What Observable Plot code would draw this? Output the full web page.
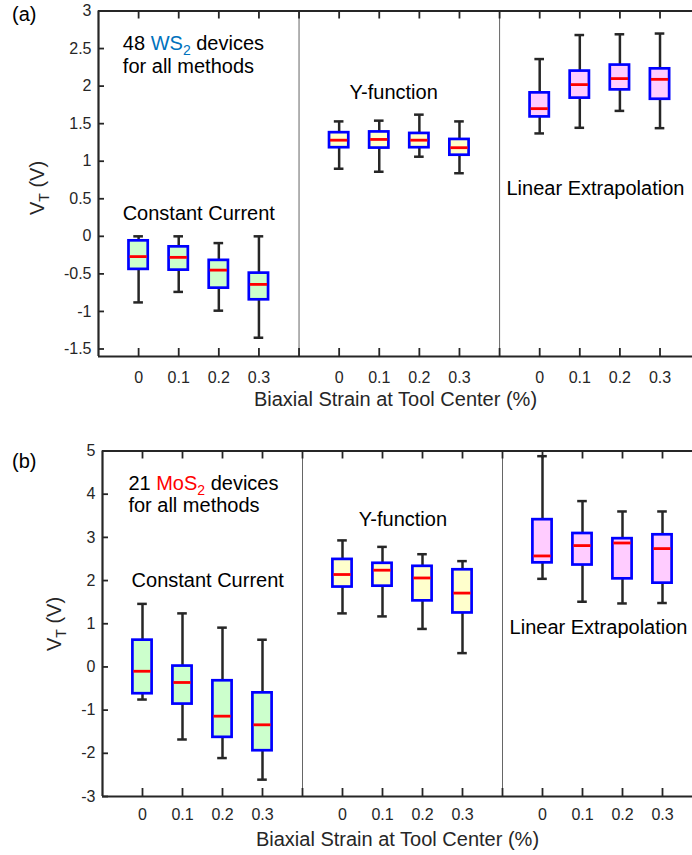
<!DOCTYPE html>
<html><head><meta charset="utf-8">
<script src="https://cdn.jsdelivr.net/npm/d3@7"></script>
<script src="https://cdn.jsdelivr.net/npm/@observablehq/plot@0.6"></script>
<style>
body{margin:0;background:#fff;}
#wrap{position:relative;width:692px;height:855px;overflow:hidden;font-family:"Liberation Sans",Arial,sans-serif;}
#wrap svg{position:absolute;left:0;}
</style></head><body><div id="wrap"></div>
<script>
// ---- categories ----
const strains = ["0", "0.1", "0.2", "0.3"];
const methods = ["Constant Current", "Y-function", "Linear Extrapolation"];
const methodFills = ["#ccffcc", "#ffffcc", "#ffccff"];
const xLabel = "Biaxial Strain at Tool Center (%)";

// ---- panel (a): 48 WS2 devices (order: CC 0..0.3, YF 0..0.3, LE 0..0.3) ----
const wsHigh = [0.00, 0.00, -0.09, 0.00, 1.53, 1.54, 1.62, 1.53, 2.36, 2.68, 2.69, 2.70];
const wsQ3   = [-0.06, -0.14, -0.32, -0.49, 1.38, 1.39, 1.37, 1.29, 1.91, 2.20, 2.28, 2.23];
const wsMed  = [-0.27, -0.28, -0.45, -0.64, 1.28, 1.29, 1.28, 1.18, 1.70, 2.02, 2.10, 2.09];
const wsQ1   = [-0.44, -0.45, -0.69, -0.845, 1.18, 1.175, 1.18, 1.08, 1.59, 1.84, 1.95, 1.825];
const wsLow  = [-0.88, -0.74, -0.99, -1.35, 0.90, 0.86, 1.06, 0.84, 1.37, 1.445, 1.67, 1.44];
const wsYTicks = [-1.5, -1, -0.5, 0, 0.5, 1, 1.5, 2, 2.5, 3];

// ---- panel (b): 21 MoS2 devices ----
const mosHigh = [1.46, 1.24, 0.91, 0.63, 2.93, 2.78, 2.61, 2.45, 4.88, 3.84, 3.60, 3.60];
const mosQ3   = [0.62, 0.02, -0.32, -0.60, 2.49, 2.40, 2.33, 2.25, 3.41, 3.09, 2.97, 3.06];
const mosMed  = [-0.10, -0.36, -1.14, -1.34, 2.14, 2.24, 2.06, 1.71, 2.57, 2.81, 2.87, 2.74];
const mosQ1   = [-0.62, -0.86, -1.63, -1.94, 1.85, 1.87, 1.53, 1.25, 2.41, 2.36, 2.04, 1.94];
const mosLow  = [-0.755, -1.68, -2.11, -2.61, 1.24, 1.17, 0.88, 0.32, 2.04, 1.51, 1.47, 1.48];
const mosYTicks = [-3, -2, -1, 0, 1, 2, 3, 4, 5];

const FONT = '"Liberation Sans", Arial, sans-serif';
const DARK = "#262626";

function panel(cfg) {
  const rows = [];
  methods.forEach((m, g) => strains.forEach((s, i) => {
    const k = g * 4 + i;
    rows.push({pos: g * 5 + i + 1, strain: s, method: m, fill: methodFills[g],
      low: cfg.low[k], q1: cfg.q1[k], med: cfg.med[k], q3: cfg.q3[k], high: cfg.high[k]});
  }));
  const W = 692, H = 415, mt = 10.5, mb = 59;
  const ph = H - mt - mb, pw = W - cfg.marginLeft;
  const allTicks = d3.range(1, 15);
  const sepPos = [5, 10];
  const BW = 0.24, CAP = 0.12, MW = 0.215;
  const labelOf = new Map(rows.map(d => [d.pos, d.strain]));
  const notes = methods.map((m, g) => ({text: m, x: cfg.notePos[g][0], y: cfg.notePos[g][1]}));

  const plot = Plot.plot({
    width: W, height: H, marginTop: mt, marginBottom: mb, marginLeft: cfg.marginLeft, marginRight: 0,
    style: {fontFamily: FONT, fontSize: "16px", color: DARK, background: "transparent", overflow: "visible"},
    x: {domain: [0, cfg.xMax]},
    y: {domain: cfg.yDomain},
    color: {type: "identity"},
    marks: [
      Plot.axisY(cfg.yTicks, {tickSize: 0, tickPadding: 7, tickFormat: d => String(d), label: null, fontSize: 16, fill: DARK}),
      Plot.axisX(rows.map(d => d.pos), {tickSize: 0, tickPadding: cfg.xPad, tickFormat: d => labelOf.get(d), label: null, fontSize: 16, fill: DARK}),
      Plot.ruleX(sepPos, {stroke: "#555", strokeWidth: 0.9}),
      Plot.ruleX(allTicks, {stroke: DARK, strokeWidth: 1.8, insetBottom: ph - 8}),
      Plot.ruleX(allTicks, {stroke: DARK, strokeWidth: 1.8, insetTop: ph - 8}),
      Plot.ruleY(cfg.yTicks, {stroke: DARK, strokeWidth: 1.8, insetRight: pw - 6}),
      Plot.ruleX([0], {stroke: DARK, strokeWidth: 2.2}),
      Plot.ruleY(cfg.yDomain, {stroke: DARK, strokeWidth: 2.2}),
      // whiskers
      Plot.ruleX(rows, {x: "pos", y1: "low", y2: "high", stroke: DARK, strokeWidth: 2.5}),
      Plot.ruleY(rows, {y: "low", x1: d => d.pos - CAP, x2: d => d.pos + CAP, stroke: DARK, strokeWidth: 2.5}),
      Plot.ruleY(rows, {y: "high", x1: d => d.pos - CAP, x2: d => d.pos + CAP, stroke: DARK, strokeWidth: 2.5}),
      // boxes
      Plot.rect(rows, {x1: d => d.pos - BW, x2: d => d.pos + BW, y1: "q1", y2: "q3", fill: "fill", stroke: "#0000ff", strokeWidth: 2.7}),
      // medians
      Plot.ruleY(rows, {y: "med", x1: d => d.pos - MW, x2: d => d.pos + MW, stroke: "#ff0000", strokeWidth: 2.8}),
      // method labels
      Plot.text(notes, {x: "x", y: "y", text: "text", fontSize: 20, fill: "#000", textAnchor: "middle", lineAnchor: "middle"}),
      // x label
      Plot.text([xLabel], {frameAnchor: "bottom", dy: 43, text: d => d, fontSize: 20, fill: DARK, lineAnchor: "middle"})
    ]
  });
  plot.style.top = cfg.top + "px";
  const svg = d3.select(plot);
  const sx = plot.scale("x").apply, sy = plot.scale("y").apply;

  // panel tag
  svg.append("text").attr("x", 12).attr("y", cfg.tagY).attr("font-size", 20).attr("font-family", FONT)
    .attr("text-anchor", "start").attr("fill", "#000").text(cfg.tag);

  // y label  V_T (V)
  const yl = svg.append("text").attr("transform", `translate(${cfg.yLabelX},${cfg.yLabelY}) rotate(-90)`)
    .attr("text-anchor", "middle").attr("font-size", 20).attr("font-family", FONT).attr("fill", DARK);
  yl.append("tspan").text("V");
  yl.append("tspan").attr("font-size", 14).attr("dy", 5).text("T");
  yl.append("tspan").attr("dy", -5).text(" (V)");

  // device note (two lines in one text block)
  const x0 = sx(cfg.infoPos[0]), y0 = sy(cfg.infoPos[1]);
  const t1 = svg.append("text").attr("x", x0).attr("y", y0).attr("font-size", 20).attr("font-family", FONT)
    .attr("text-anchor", "start").attr("fill", "#000");
  t1.append("tspan").text(cfg.count + " ");
  t1.append("tspan").attr("fill", cfg.matColor).text(cfg.material);
  t1.append("tspan").attr("fill", cfg.matColor).attr("font-size", 14).attr("dy", 5).text("2");
  t1.append("tspan").attr("dy", -5).text(" devices");
  t1.append("tspan").attr("x", x0).attr("dy", 22.5).text("for all methods");
  return plot;
}

const wrap = document.getElementById("wrap");
wrap.appendChild(panel({
  top: 0, marginLeft: 98, xMax: 14.81, yDomain: [-1.6, 3], yTicks: wsYTicks, xPad: 15,
  low: wsLow, q1: wsQ1, med: wsMed, q3: wsQ3, high: wsHigh,
  notePos: [[2.5, 0.30], [7.36, 1.91], [12.39, 0.64]],
  tag: "(a)", tagY: 21, yLabelX: 43.5, yLabelY: 188,
  infoPos: [0.62, 2.47], count: "48", material: "WS", matColor: "#0072BD"
}));
wrap.appendChild(panel({
  top: 440, marginLeft: 102, xMax: 14.75, yDomain: [-3, 5], yTicks: mosYTicks, xPad: 12.5,
  low: mosLow, q1: mosQ1, med: mosMed, q3: mosQ3, high: mosHigh,
  notePos: [[2.63, 1.99], [7.51, 3.41], [12.4, 0.91]],
  tag: "(b)", tagY: 27.5, yLabelX: 61, yLabelY: 184,
  infoPos: [0.66, 4.09], count: "21", material: "MoS", matColor: "#ff0000"
}));
</script></body></html>
